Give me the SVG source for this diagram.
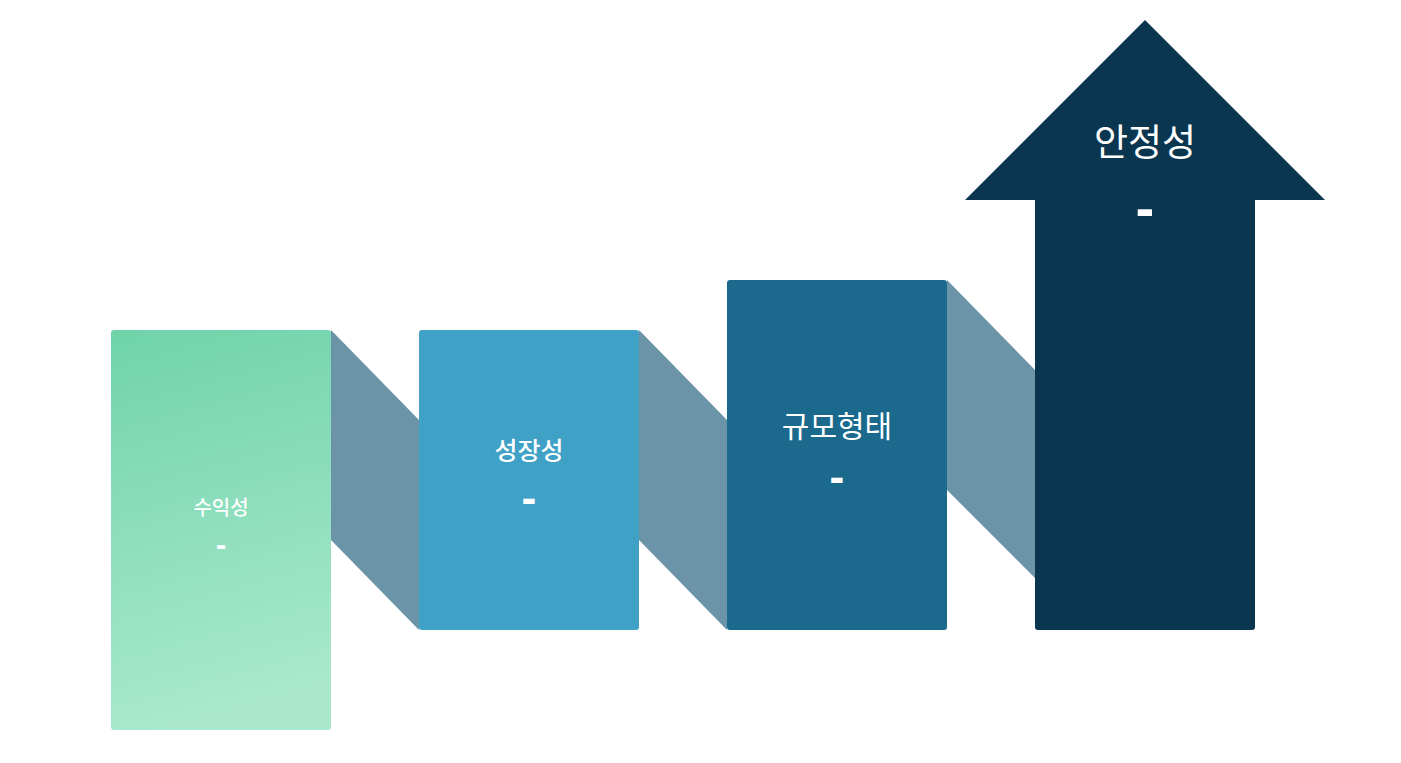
<svg xmlns="http://www.w3.org/2000/svg" width="1401" height="763" viewBox="0 0 1401 763">
<defs>
<linearGradient id="g1" x1="0" y1="0" x2="0.15" y2="1">
<stop offset="0" stop-color="#6fd3aa"/>
<stop offset="1" stop-color="#a9e8cd"/>
</linearGradient>
<style>
.conn{fill:#6b94a8}
.t{fill:#ffffff;font-family:"Noto Sans CJK KR","Noto Sans",sans-serif;text-anchor:middle}
.d{fill:#ffffff;font-family:"Noto Sans","Noto Sans CJK KR",sans-serif;font-weight:bold;text-anchor:middle}
</style>
</defs>
<rect width="1401" height="763" fill="#ffffff"/>
<g id="connectors">
<polygon class="conn" points="331,330 419,420 419,630 331,540"/>
<polygon class="conn" points="639,330 727,420 727,630 639,540"/>
<polygon class="conn" points="947,280 1035,370 1035,578 947,490"/>
</g>
<g id="node1">
<rect x="111" y="330" width="220" height="400" rx="3" fill="url(#g1)"/>
<text class="t" x="221" y="515" font-size="20" font-weight="500">수익성</text>
<text class="d" x="221" y="555" font-size="30">-</text>
</g>
<g id="node2">
<rect x="419" y="330" width="220" height="300" rx="3" fill="#40a1c7"/>
<text class="t" x="529" y="460" font-size="25" font-weight="500">성장성</text>
<text class="d" x="529" y="513" font-size="43">-</text>
</g>
<g id="node3">
<rect x="727" y="280" width="220" height="350" rx="3" fill="#1b698d"/>
<text class="t" x="837" y="437" font-size="30">규모형태</text>
<text class="d" x="837" y="492" font-size="43">-</text>
</g>
<g id="node4">
<path d="M1145,20 L1325,200 L1255,200 L1255,627 Q1255,630 1252,630 L1038,630 Q1035,630 1035,627 L1035,200 L965,200 Z" fill="#0b364f"/>
<text class="t" x="1145" y="156" font-size="37">안정성</text>
<text class="d" x="1145" y="227" font-size="54">-</text>
</g>
</svg>
